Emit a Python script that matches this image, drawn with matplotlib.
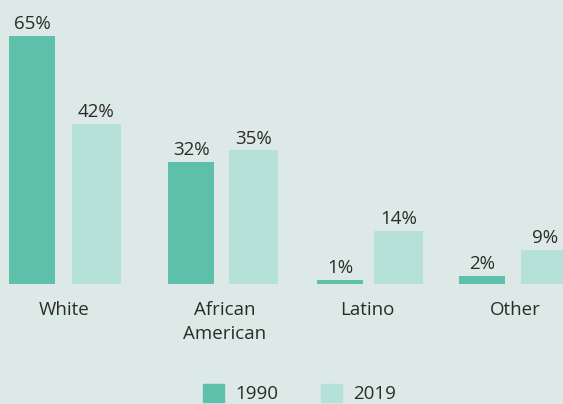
import numpy as np
import matplotlib.pyplot as plt
from matplotlib.patches import Patch

# Share of group by race/ethnicity, 1990 vs 2019

categories = ['White', 'African\nAmerican', 'Latino', 'Other']
values_1990 = [65, 32, 1, 2]
values_2019 = [42, 35, 14, 9]
series_names = ['1990', '2019']

BG = '#dde9e6'
DARK = '#5cc0aa'
LIGHT = '#b6e1d9'
TEXT = '#2b2b2b'

plt.rcParams['font.family'] = ['Open Sans', 'DejaVu Sans']

fig = plt.figure(figsize=(5.63, 4.04), dpi=100, facecolor=BG)
ax = fig.add_axes([0, 0, 1, 1], facecolor=BG)

# layout in pixel-like x units
label_x = np.array([64, 225, 367, 515])
x1 = np.array([32, 191, 340, 482])
x2 = np.array([96.5, 253.5, 398.5, 545.5])

b1 = ax.bar(x1, values_1990, width=46, color=DARK)
b2 = ax.bar(x2, values_2019, width=49, color=LIGHT)

for bars, vals in ((b1, values_1990), (b2, values_2019)):
    for bar, v in zip(bars, vals):
        ax.annotate(f'{v}%', (bar.get_x() + bar.get_width() / 2, v),
                    xytext=(0, 5), textcoords='offset points',
                    ha='center', va='baseline', fontsize=13.5, color=TEXT)

for c, label in zip(label_x, categories):
    ax.text(c, -4.4, label, ha='center', va='top', fontsize=13.5,
            color=TEXT, linespacing=1.45)

ax.set_xlim(0, 563)
ax.set_ylim(-31.45, 74.44)
ax.axis('off')

handles = [Patch(color=DARK), Patch(color=LIGHT)]
fig.legend(handles, series_names, loc='lower center', ncol=2,
           bbox_to_anchor=(0.532, -0.04), frameon=False, fontsize=13.5,
           handlelength=1.1, handleheight=1.1, handletextpad=0.6,
           columnspacing=2.3, labelcolor=TEXT)

fig.savefig('out.png', dpi=100, facecolor=BG)
